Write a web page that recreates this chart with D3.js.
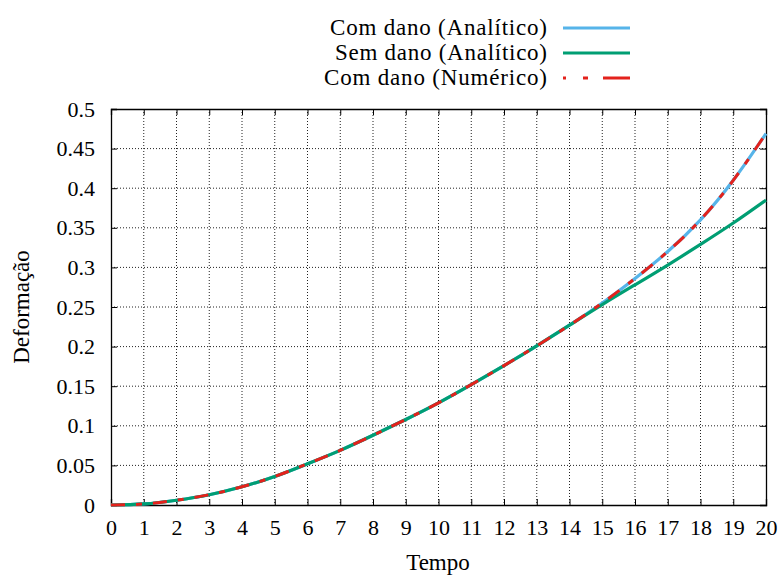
<!DOCTYPE html>
<html>
<head>
<meta charset="utf-8">
<script src="https://cdn.jsdelivr.net/npm/d3@7"></script>
</head>
<body style="margin:0">
<svg width="779" height="576" style="font-family:'Liberation Serif'"></svg>
<script>
// values
const tempo = [0,1,2,3,4,5,6,7,8,9,10,11,12,13,14,15,16,17,18,19,20];
const comDanoAnalitico = [0,0.0013,0.006,0.013,0.023,0.036,0.052,0.069,0.088,0.108,0.129,0.152,0.176,0.201,0.227,0.255,0.286,0.320,0.360,0.410,0.469];
const semDanoAnalitico = [0,0.0013,0.006,0.013,0.023,0.036,0.052,0.069,0.088,0.108,0.129,0.152,0.176,0.201,0.227,0.253,0.278,0.303,0.329,0.356,0.385];
const comDanoNumerico = [0,0.0013,0.006,0.013,0.023,0.036,0.052,0.069,0.088,0.108,0.129,0.152,0.176,0.201,0.227,0.255,0.286,0.320,0.360,0.410,0.469];
const xTicks = d3.range(0, 21, 1);
const yTicks = [0,0.05,0.1,0.15,0.2,0.25,0.3,0.35,0.4,0.45,0.5];
const seriesNames = ['Com dano (Analítico)', 'Sem dano (Analítico)', 'Com dano (Numérico)'];

const pL = 111, pR = 766, pT = 109, pB = 505;

const svg = d3.select('svg');

const x = d3.scaleLinear().domain([0, 20]).range([pL, pR]);
const y = d3.scaleLinear().domain([0, 0.5]).range([pB, pT]);

// grid
const grid = svg.append('g');
grid.selectAll('.vg')
    .data(xTicks.slice(1, -1))
    .enter().append('line')
    .attr('x1', d => x(d)).attr('x2', d => x(d))
    .attr('y1', pT).attr('y2', pB)
    .attr('stroke', '#222').attr('stroke-width', 1)
    .attr('stroke-dasharray', '1,2');
grid.selectAll('.hg')
    .data(yTicks.slice(1, -1))
    .enter().append('line')
    .attr('x1', pL).attr('x2', pR)
    .attr('y1', d => y(d)).attr('y2', d => y(d))
    .attr('stroke', '#222').attr('stroke-width', 1)
    .attr('stroke-dasharray', '1,2');

// axes with inward ticks on all four sides
const tk = 6;
const axes = [
  svg.append('g').attr('transform', `translate(0,${pB})`)
     .call(d3.axisBottom(x).tickValues(xTicks).tickSize(-tk).tickPadding(14).tickFormat(d3.format('d'))),
  svg.append('g').attr('transform', `translate(0,${pT})`)
     .call(d3.axisTop(x).tickValues(xTicks).tickSize(-tk).tickFormat('')),
  svg.append('g').attr('transform', `translate(${pL},0)`)
     .call(d3.axisLeft(y).tickValues(yTicks).tickSize(-tk).tickPadding(16).tickFormat(d => String(+d.toFixed(2)))),
  svg.append('g').attr('transform', `translate(${pR},0)`)
     .call(d3.axisRight(y).tickValues(yTicks).tickSize(-tk).tickFormat(''))
];
axes.forEach(a => a.attr('font-family', null).attr('font-size', null));

svg.selectAll('.domain').attr('stroke', '#000').attr('stroke-width', 1.3);
svg.selectAll('.tick line').attr('stroke', '#000');
svg.selectAll('.tick text')
   .attr('style', "font-family:'Liberation Serif';font-size:22px")
   .attr('fill', '#000');

// curves
const line = d3.line()
               .x((d, i) => x(tempo[i]))
               .y(d => y(d))
               .curve(d3.curveNatural);

svg.append('path').datum(comDanoAnalitico)
   .attr('d', line).attr('fill', 'none')
   .attr('stroke', '#56b4e9').attr('stroke-width', 3.2);
svg.append('path').datum(semDanoAnalitico)
   .attr('d', line).attr('fill', 'none')
   .attr('stroke', '#009e73').attr('stroke-width', 3.2);
svg.append('path').datum(comDanoNumerico)
   .attr('d', line).attr('fill', 'none')
   .attr('stroke', '#e3221c').attr('stroke-width', 3)
   .attr('stroke-dasharray', '14,11,6,11');

// axis titles
svg.append('text')
   .attr('x', 438).attr('y', 570)
   .attr('text-anchor', 'middle')
   .attr('style', "font-family:'Liberation Serif';font-size:23px")
   .text('Tempo');
svg.append('text')
   .attr('transform', `translate(29,${(pT + pB) / 2}) rotate(-90)`)
   .attr('text-anchor', 'middle')
   .attr('style', "font-family:'Liberation Serif';font-size:23px")
   .text('Deformação');

// legend
const legColors = ['#56b4e9', '#009e73', '#e3221c'];
const legDash = [null, null, '3,17,5,15,27'];
const legWidth = [217, 212, 223];
const legY = [28, 53, 78];
const leg = svg.append('g');
seriesNames.forEach((name, i) => {
  leg.append('text')
     .attr('x', 547).attr('y', legY[i] + 7)
     .attr('text-anchor', 'end')
     .attr('textLength', legWidth[i])
     .attr('lengthAdjust', 'spacing')
     .attr('style', "font-family:'Liberation Serif';font-size:23px")
     .text(name);
  leg.append('line')
     .attr('x1', 563).attr('x2', 630)
     .attr('y1', legY[i]).attr('y2', legY[i])
     .attr('stroke', legColors[i]).attr('stroke-width', 3)
     .attr('stroke-dasharray', legDash[i]);
});
</script>
</body>
</html>
